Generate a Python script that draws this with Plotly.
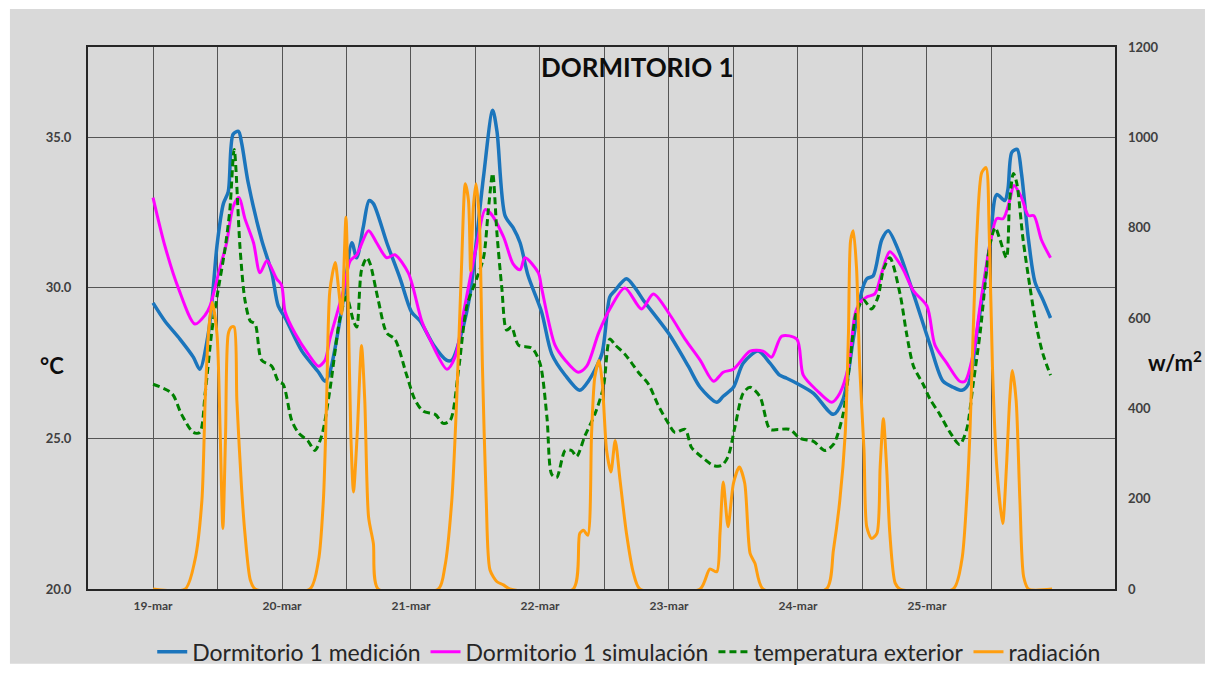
import plotly.graph_objects as go

# hours from 19-mar 00:00
day_labels = ["19-mar", "20-mar", "21-mar", "22-mar", "23-mar", "24-mar", "25-mar"]

# Dormitorio 1 medicion (degC)
med_h = [0, 2.2, 5.0, 7.5, 8.7, 10.3, 11.2, 11.9, 13.1, 14.0, 14.9, 15.9, 16.5, 17.7, 20.2, 22.1,
         23.3, 24.6, 27.7, 30.8, 32.0, 32.9, 35.4, 37.0, 37.9, 39.1, 40.2, 41.0, 43.5, 46.0, 48.1,
         49.7, 52.2, 54.6, 55.6, 57.4, 59.0, 60.2, 61.5, 63.2, 64.0, 65.5, 67.0, 68.3, 69.8, 72.3,
         74.2, 76.7, 79.4, 81.0, 83.5, 85.0, 85.9, 88.1, 89.7, 91.2, 95.9, 99.6, 101.8, 104.9, 106.1,
         108.0, 109.8, 112.6, 114.8, 116.6, 117.9, 120.1, 122.9, 126.6, 128.4, 130.3, 131.9, 132.8,
         134.0, 135.6, 136.8, 138.8, 141.5, 144.6, 147.0, 148.9, 150.5, 151.7, 153.3, 155.7, 157.0,
         158.5, 159.1, 159.8, 160.8, 161.6, 162.9, 164.1, 165.6, 167.0]
med_t = [29.5, 28.9, 28.3, 27.7, 27.3, 28.5, 30.0, 31.4, 32.8, 33.2, 35.1, 35.2, 34.8, 33.5, 31.6, 30.5,
         29.4, 29.0, 27.9, 27.2, 26.9, 27.2, 29.6, 31.5, 31.0, 32.0, 32.9, 32.8, 31.5, 30.3, 29.2,
         28.9, 28.1, 27.6, 27.6, 28.5, 29.8, 31.6, 33.7, 35.9, 35.2, 32.4, 32.0, 31.5, 30.4, 29.2,
         27.8, 27.1, 26.6, 26.9, 27.8, 29.7, 29.9, 30.3, 30.0, 29.6, 28.5, 27.4, 26.7, 26.2, 26.4,
         26.7, 27.5, 27.9, 27.5, 27.1, 27.0, 26.8, 26.5, 25.8, 26.3, 28.3, 29.9, 30.3,
         30.4, 31.6, 31.9, 31.2, 29.8, 28.1, 26.9, 26.7, 26.6, 26.8, 28.5, 31.4, 33.1,
         32.9, 33.3, 34.5, 34.6, 33.8, 31.6, 30.2, 29.6, 29.0]

# Dormitorio 1 simulacion (degC)
sim_h = [0, 2.2, 4.7, 7.8, 9.7, 10.6, 12.5, 13.7, 14.9, 16.0, 17.1, 18.7, 19.9, 21.2, 23.0, 23.9,
         24.6, 26.4, 28.9, 30.8, 32.0, 32.9, 35.4, 36.7, 37.9, 40.1, 41.6, 43.5, 45.0, 47.5, 48.4,
         50.0, 51.5, 54.7, 56.2, 57.7, 60.2, 61.8, 62.7, 65.2, 67.0, 68.3, 69.2, 71.7, 72.3, 74.8,
         76.7, 79.1, 80.7, 82.9, 85.0, 87.8, 90.9, 93.1, 96.2, 99.0, 101.8, 104.3, 106.1, 108.0,
         111.1, 113.5, 115.1, 117.0, 119.8, 121.0, 123.5, 126.3, 127.8, 129.4, 130.6, 131.5, 132.8,
         134.3, 135.6, 137.1, 139.3, 141.5, 144.0, 145.5, 147.7, 150.1, 151.1, 152.6, 153.9, 155.7,
         157.0, 158.2, 159.4, 160.2, 161.6, 162.9, 163.9, 165.3, 167.0]
sim_t = [33.0, 31.4, 30.0, 28.8, 29.1, 29.4, 30.7, 31.5, 32.7, 33.0, 32.3, 31.5, 30.5, 30.9, 30.3, 30.1,
         29.2, 28.5, 27.8, 27.4, 27.6, 28.3, 29.9, 30.9, 31.1, 31.9, 31.5, 31.0, 31.1, 30.5, 30.0,
         28.9, 28.3, 27.3, 27.7, 29.1, 31.4, 32.6, 32.5, 31.7, 30.8, 30.6, 31.0, 30.5, 30.0, 28.1,
         27.6, 27.2, 27.4, 28.5, 29.3, 30.0, 29.3, 29.8, 29.1, 28.3, 27.6, 26.9, 27.2, 27.3,
         27.9, 27.9, 27.7, 28.4, 28.3, 27.1, 26.6, 26.2, 26.5, 27.4, 29.1, 29.5, 29.7,
         29.8, 30.5, 31.2, 30.7, 29.9, 29.4, 28.1, 27.5, 26.9, 26.9, 27.8, 29.4, 31.4,
         32.3, 32.3, 32.9, 33.4, 33.0, 32.4, 32.4, 31.6, 31.0]

# temperatura exterior (degC)
ext_h = [0, 3.5, 5.3, 7.5, 8.7, 9.7, 10.9, 11.9, 13.4, 14.3, 15.1, 16.2, 17.1, 18.1, 19.0, 20.2,
         22.1, 23.3, 24.2, 25.8, 27.0, 28.9, 30.1, 31.4, 32.9, 34.8, 36.0, 37.3, 37.9, 38.8, 39.8,
         40.4, 41.9, 43.5, 45.0, 47.2, 48.7, 50.3, 52.5, 54.0, 55.3, 56.8, 58.4, 60.2, 61.5, 62.4,
         63.2, 64.0, 64.9, 65.8, 66.7, 68.0, 70.5, 72.0, 73.3, 74.2, 75.1, 76.7, 77.9, 78.8, 80.4,
         82.2, 83.8, 85.0, 86.0, 87.8, 90.3, 92.2, 94.0, 95.9, 97.1, 99.0, 100.2, 102.0, 104.3,
         105.8, 107.0, 108.3, 109.8, 111.1, 112.9, 114.8, 116.3, 118.5, 120.4, 122.9, 125.0, 126.6,
         128.4, 129.7, 130.9, 132.2, 133.7, 134.9, 135.9, 137.1, 139.0, 140.2, 141.5, 143.3, 144.6,
         146.4, 148.3, 150.1, 151.4, 152.6, 153.9, 155.7, 156.7, 157.6, 158.8, 159.4, 160.1, 160.7,
         161.9, 163.2, 164.4, 165.6, 167.0]
ext_t = [26.8, 26.5, 25.8, 25.2, 25.2, 26.5, 28.5, 29.7, 31.3, 32.6, 34.6, 31.3, 29.6, 28.9, 28.8, 27.6,
         27.4, 26.9, 26.8, 25.6, 25.2, 24.9, 24.6, 25.1, 26.6, 29.0, 29.7, 28.9, 28.7, 30.6, 31.0,
         30.8, 29.6, 28.5, 28.3, 27.1, 26.3, 25.9, 25.8, 25.5, 25.6, 27.2, 29.4, 30.3, 31.0, 32.6,
         33.8, 31.8, 30.0, 28.6, 28.7, 28.1, 28.0, 27.5, 25.7, 23.8, 23.7, 24.6, 24.6, 24.4, 25.1,
         25.8, 26.7, 28.3, 28.1, 27.8, 27.2, 26.8, 26.1, 25.5, 25.2, 25.3, 24.7, 24.4, 24.1,
         24.1, 24.4, 25.4, 26.5, 26.7, 26.4, 25.3, 25.3, 25.3, 25.0, 24.9, 24.6, 24.8,
         25.8, 27.6, 29.2, 29.6, 29.3, 29.7, 30.6, 31.0, 29.8, 28.5, 27.4, 26.8, 26.3,
         25.8, 25.2, 24.8, 25.3, 26.8, 28.5, 31.4, 32.0, 31.6, 31.0, 32.9, 33.8, 33.5,
         31.6, 30.0, 28.7, 27.8, 27.1]

# radiacion (W/m2)
rad_h = [0, 6.0, 7.8, 9.1, 9.7, 10.3, 11.0, 11.9, 12.5, 13.0, 13.5, 14.0, 14.6, 15.1, 15.6, 16.5,
         17.1, 18.1, 19.0,
         29.2, 30.8, 31.7, 32.3, 32.9, 33.9, 34.5, 35.1, 35.9, 36.3, 36.8, 37.3, 38.0, 38.8, 39.4,
         40.1, 41.0, 41.9,
         53.1, 54.3, 55.6, 56.5, 57.4, 58.1, 58.7, 59.1, 59.6, 60.1, 60.7, 61.3, 62.0, 62.7, 64.0,
         65.2, 66.4,
         78.2, 79.4, 80.1, 80.9, 81.6, 82.2, 83.0, 83.6, 84.4, 85.2, 86.0, 86.9, 88.1, 89.4, 90.6,
         101.8, 103.6, 104.9, 105.5, 106.1, 107.0, 108.0, 109.1, 110.1, 111.1, 112.0, 113.5,
         125.3, 126.6, 127.8, 128.8, 129.4, 129.8, 130.3, 130.9, 131.5, 132.3, 132.8, 133.7, 134.7,
         135.3, 135.9, 136.5, 137.1, 138.1, 139.0,
         148.9, 150.5, 151.4, 152.0, 152.6, 153.3, 154.2, 155.0, 155.6, 156.2, 157.0, 158.1, 158.8,
         159.4, 159.9, 160.6, 161.3, 162.0, 162.9, 167.3]
rad_w = [0, 0, 64, 197, 418, 565, 635, 565, 344, 134, 344, 565, 580, 580, 418, 219,
         123, 20, 0,
         0, 64, 197, 418, 660, 723, 668, 609, 823, 639, 344, 215, 344, 539, 418,
         160, 101, 0,
         0, 49, 197, 418, 712, 897, 860, 705, 845, 897, 823, 491, 197, 42, 16,
         9, 0,
         0, 123, 130, 119, 344, 469, 506, 455, 307, 259, 329, 241, 123, 35, 0,
         0, 44, 38, 123, 237, 138, 234, 270, 234, 79, 57, 0,
         0, 86, 197, 344, 565, 771, 793, 712, 491, 307, 138, 112, 123,
         270, 377, 270, 123, 13, 0,
         0, 64, 197, 344, 565, 786, 922, 933, 786, 491, 270, 145, 270,
         418, 484, 418, 197, 27, 0, 0]

day_ticks = [24 * i for i in range(len(day_labels))]
half_day_ticks = [12 + 24 * i for i in range(len(day_labels))]

FONT = "Lato, Open Sans, sans-serif"
GRID = "#555555"

fig = go.Figure()
fig.add_trace(go.Scatter(x=med_h, y=med_t, name="Dormitorio 1 medición", mode="lines",
                         line=dict(color="#1B75BC", width=3.5, shape="spline", smoothing=0.8)))
fig.add_trace(go.Scatter(x=sim_h, y=sim_t, name="Dormitorio 1 simulación", mode="lines",
                         line=dict(color="#FF00FF", width=3, shape="spline", smoothing=0.8)))
fig.add_trace(go.Scatter(x=ext_h, y=ext_t, name="temperatura exterior", mode="lines",
                         line=dict(color="#008000", width=3, dash="7px,4px", shape="spline", smoothing=0.8)))
fig.add_trace(go.Scatter(x=rad_h, y=rad_w, name="radiación", mode="lines", yaxis="y2",
                         line=dict(color="#FF9E0F", width=3, shape="spline", smoothing=0.7)))

# the page adds an 8px body margin, so margins are shifted to keep the plot box in place
fig.update_layout(
    width=1214, height=681,
    margin=dict(l=80, r=107, t=39, b=100),
    paper_bgcolor="white",
    plot_bgcolor="#D9D9D9",
    font=dict(family=FONT, color="#262626"),
    xaxis=dict(range=[-12.1, 179], tickvals=day_ticks, ticktext=day_labels,
               showgrid=True, gridcolor=GRID, gridwidth=1, zeroline=False,
               minor=dict(tickmode="array", tickvals=half_day_ticks, showgrid=True,
                          gridcolor=GRID, gridwidth=1, ticks=""),
               showline=True, linecolor="#262626", linewidth=2, mirror=True,
               layer="below traces", ticks="", ticklabelstandoff=5,
               tickfont=dict(size=12, color="#404040", weight="bold")),
    yaxis=dict(range=[20, 38], tickvals=[20, 25, 30, 35], tickformat=".1f",
               showgrid=True, gridcolor=GRID, gridwidth=1, zeroline=False,
               showline=True, linecolor="#262626", linewidth=2, mirror=True,
               ticks="", ticklabelstandoff=12,
               tickfont=dict(size=13, color="#404040", weight="bold")),
    yaxis2=dict(range=[0, 1200], dtick=200, overlaying="y", side="right",
                showgrid=False, zeroline=False, ticks="", ticklabelstandoff=12,
                tickfont=dict(size=13, color="#404040", weight="bold")),
    legend=dict(orientation="h", x=0.527, xanchor="center", y=-0.116, yanchor="middle",
                font=dict(size=23, family=FONT, color="#262626"), itemwidth=30,
                bgcolor="rgba(0,0,0,0)"),
    showlegend=True,
    shapes=[dict(type="rect", xref="paper", yref="paper", x0=-0.076, x1=1.0876,
                 y0=-0.1381, y1=1.070, fillcolor="#D9D9D9", line=dict(width=0), layer="below")],
    annotations=[
        dict(text="<b>DORMITORIO 1</b>", xref="paper", yref="paper", x=0.5346, y=0.963,
             xanchor="center", yanchor="middle", showarrow=False,
             font=dict(size=26, color="#0D0D0D")),
        dict(text="<b>°C</b>", xref="paper", yref="paper", x=-0.035, y=0.4125,
             xanchor="center", yanchor="middle", showarrow=False,
             font=dict(size=22, color="#0D0D0D")),
        dict(text="<b>w/m<sup>2</sup></b>", xref="paper", yref="paper", x=1.058, y=0.42,
             xanchor="center", yanchor="middle", showarrow=False,
             font=dict(size=22, color="#0D0D0D")),
    ],
)

fig.write_html("out.html")
